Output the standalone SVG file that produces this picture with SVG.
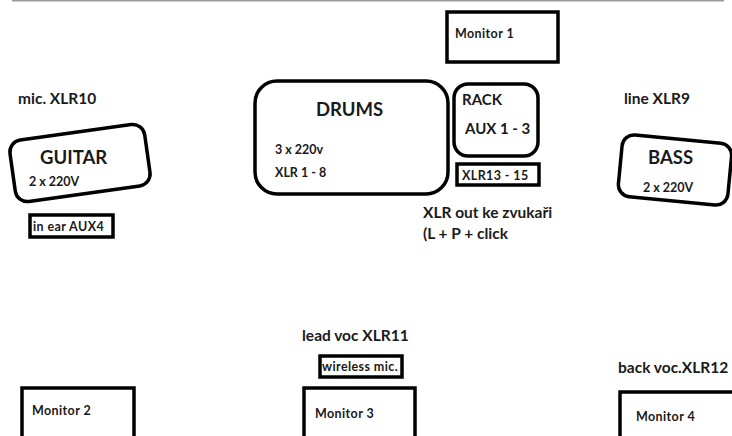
<svg xmlns="http://www.w3.org/2000/svg" width="732" height="436" viewBox="0 0 732 436">
<style>
  text { font-family: Lato, "Liberation Sans", sans-serif; font-weight: bold; fill: #1a1a1a; }
  .box { fill: #ffffff; stroke: #000000; stroke-width: 3.5; }
  .big { font-size: 18.5px; }
  .mid { font-size: 15px; }
  .lbl { font-size: 15.5px; }
  .sm { font-size: 12.5px; }
  .xs { font-size: 12.5px; letter-spacing: 0.4px; }
</style>
<rect width="732" height="436" fill="#ffffff"/>
<line x1="12" y1="0.5" x2="724" y2="0.5" stroke="#9a9a9a" stroke-width="2"/>

<g id="monitor1">
  <rect class="box" x="447" y="12" width="111" height="50"/>
  <text class="xs" x="455" y="38">Monitor 1</text>
</g>

<g id="drums">
  <rect class="box" x="255" y="81" width="193" height="113" rx="22"/>
  <text class="big" x="316" y="116">DRUMS</text>
  <text class="sm" x="275" y="154">3 x 220v</text>
  <text class="sm" x="275" y="177">XLR 1 - 8</text>
</g>

<g id="rack">
  <rect class="box" x="454" y="84" width="84" height="72" rx="14"/>
  <text class="mid" x="462" y="105">RACK</text>
  <text class="mid" x="465" y="134">AUX 1 - 3</text>
</g>

<g id="xlr13">
  <rect class="box" x="457" y="164" width="82" height="21"/>
  <text class="xs" x="462" y="180" letter-spacing="0.6">XLR13 - 15</text>
</g>

<g id="xlrout">
  <text class="lbl" x="423" y="218">XLR out ke zvukaři</text>
  <text class="lbl" x="423" y="239">(L + P + click</text>
</g>

<g id="bass">
  <text class="lbl" x="624" y="104">line XLR9</text>
  <rect class="box" x="620" y="139" width="110" height="62" rx="12" transform="rotate(5.5 675 170)"/>
  <text class="big" x="648" y="164">BASS</text>
  <text class="sm" x="643" y="192">2 x 220V</text>
</g>

<g id="guitar">
  <text class="lbl" x="18" y="104">mic. XLR10</text>
  <rect class="box" x="12" y="132" width="136" height="62" rx="12" transform="rotate(-8 80 163)"/>
  <text class="big" x="40" y="164">GUITAR</text>
  <text class="sm" x="29" y="186">2 x 220V</text>
</g>

<g id="inear">
  <rect class="box" x="30" y="215" width="83" height="22" stroke-width="4"/>
  <text class="xs" x="33" y="231" letter-spacing="0">in ear AUX4</text>
</g>

<g id="leadvoc">
  <text class="lbl" x="302" y="341">lead voc XLR11</text>
  <rect class="box" x="320" y="356" width="82" height="21" stroke-width="4"/>
  <text class="xs" x="322" y="371" letter-spacing="0">wireless mic.</text>
</g>

<g id="monitor3">
  <rect class="box" x="304" y="388" width="111" height="52"/>
  <text class="xs" x="315" y="418">Monitor 3</text>
</g>

<g id="monitor2">
  <rect class="box" x="22" y="388" width="112" height="52"/>
  <text class="xs" x="32" y="415">Monitor 2</text>
</g>

<g id="backvoc">
  <text class="lbl" x="618" y="373">back voc.XLR12</text>
</g>

<g id="monitor4">
  <rect class="box" x="620" y="392" width="116" height="50"/>
  <text class="xs" x="636" y="421">Monitor 4</text>
</g>
</svg>
